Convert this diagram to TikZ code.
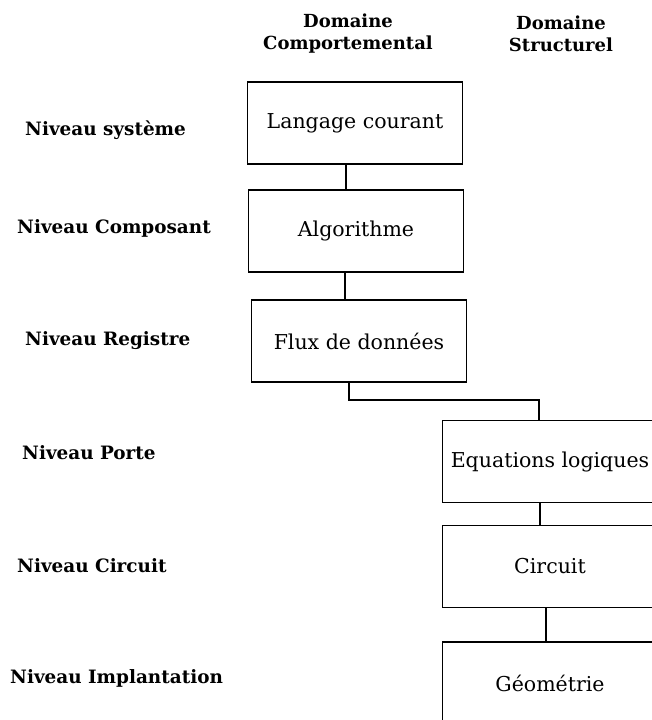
\documentclass[tikz,border=0pt]{standalone}
\usepackage{fontspec}
\setmainfont{DejaVu Serif}
\usetikzlibrary{positioning,calc}
\tikzset{
    level/.style={draw, line width=1.8pt, minimum width=215pt, minimum height=82pt, font=\fontsize{20.5}{24}\selectfont},
    niveau/.style={anchor=west, inner sep=0pt, font=\fontsize{18.4}{21}\selectfont\bfseries},
    domaine/.style={align=center, font=\fontsize{18}{22}\selectfont\bfseries},
    link/.style={line width=1.8pt},
}
\begin{document}
\begin{tikzpicture}[x=1pt, y=-1pt]
    \useasboundingbox (0,0) rectangle (652,720);
    \clip (0,0) rectangle (652,720);

    % Column headers
    \node[domaine] (comp) at (348,34) {Domaine\\Comportemental};
    \node[domaine] (struct) at (561,34) {Domaine\\Structurel};

    % Level names
    \node[niveau] (nsys) at (25,130) {Niveau système};
    \node[niveau] (ncomp) at (17,228) {Niveau Composant};
    \node[niveau] (nreg) at (25,341) {Niveau Registre};
    \node[niveau] (nporte) at (22,453) {Niveau Porte};
    \node[niveau] (ncirc) at (17,566) {Niveau Circuit};
    \node[niveau] (nimpl) at (10,678) {Niveau Implantation};

    % Behavioural side
    \node[level] (langage) at (355,123) {Langage courant};
    \node[level] (algo) at (356,231) {Algorithme};
    \node[level] (flux) at (359,341) {Flux de données};

    % Structural side
    \node[level] (eqlog) at (550,461.5) {Equations logiques};
    \node[level] (circuit) at (550,566.5) {Circuit};
    \node[level] (geom) at (550,683) {Géométrie};

    % Links
    \draw[link] ([xshift=-9pt]langage.south) -- ([xshift=-9pt]langage.south |- algo.north);
    \draw[link] ([xshift=-11pt]algo.south) -- ([xshift=-11pt]algo.south |- flux.north);
    \draw[link] ([xshift=-10pt]flux.south) -- ++(0,17) -| ([xshift=-11pt]eqlog.north);
    \draw[link] ([xshift=-10pt]eqlog.south) -- ([xshift=-10pt]eqlog.south |- circuit.north);
    \draw[link] ([xshift=-4pt]circuit.south) -- ([xshift=-4pt]circuit.south |- geom.north);
\end{tikzpicture}
\end{document}
